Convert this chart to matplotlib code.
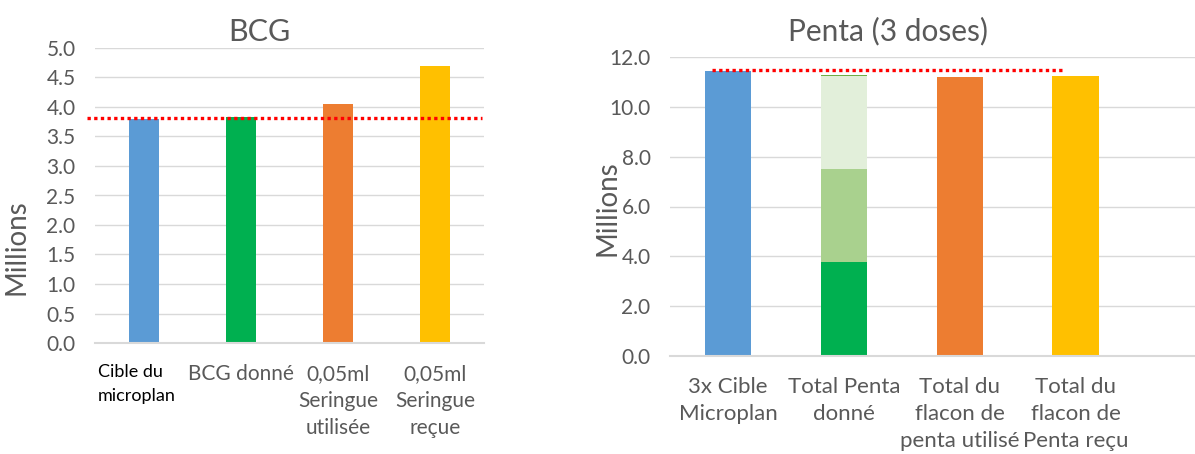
import matplotlib
matplotlib.use("Agg")
import matplotlib.pyplot as plt
from matplotlib import transforms

plt.rcParams['font.family'] = ['Lato', 'DejaVu Sans']

# BCG chart data (millions)
bcg_labels = ["Cible du\nmicroplan", "BCG donné", "0,05ml\nSeringue\nutilisée", "0,05ml\nSeringue\nreçue"]
bcg_values = [3.80, 3.83, 4.05, 4.69]
bcg_colors = ["#5B9BD5", "#00B050", "#ED7D31", "#FFC000"]
bcg_target = 3.81
bcg_ticks = [0.0, 0.5, 1.0, 1.5, 2.0, 2.5, 3.0, 3.5, 4.0, 4.5, 5.0]

# Penta chart data (millions)
penta_labels = ["3x Cible\nMicroplan", "Total Penta\ndonné", "Total du\nflacon de\npenta utilisé", "Total du\nflacon de\nPenta reçu"]
penta_single = [11.44, None, 11.20, 11.24]
penta_single_colors = ["#5B9BD5", None, "#ED7D31", "#FFC000"]
penta_doses = [3.77, 3.74, 3.72, 0.04]   # Penta 1, 2, 3, remainder
penta_dose_colors = ["#00B050", "#A9D18E", "#E2EFDA", "#70AD47"]
penta_target = 11.46
penta_ticks = [0.0, 2.0, 4.0, 6.0, 8.0, 10.0, 12.0]

GRID = "#D9D9D9"
TXT = "#595959"
W, H = 1195, 454

fig = plt.figure(figsize=(W / 100, H / 100), dpi=100)


def style_axes(ax, ticks, fmt):
    for s in ["top", "right", "left"]:
        ax.spines[s].set_visible(False)
    ax.spines["bottom"].set_color(GRID)
    ax.spines["bottom"].set_linewidth(1.5)
    ax.set_yticks(ticks)
    ax.set_yticklabels([fmt.format(t) for t in ticks], color=TXT, fontsize=15)
    ax.tick_params(axis="y", length=0, pad=14)
    ax.tick_params(axis="x", length=0)
    ax.set_xticks([])
    ax.yaxis.grid(True, color=GRID, linewidth=1)
    ax.set_axisbelow(True)


def cat_labels(ax, labels, top, size, first_black=False):
    trans = transforms.blended_transform_factory(ax.transData, fig.transFigure)
    for i, lab in enumerate(labels):
        if i == 0 and first_black:
            ax.text(-0.47, 1 - top / H, lab, transform=trans, ha="left", va="top",
                    color="black", fontsize=13, linespacing=1.6)
        else:
            ax.text(i, 1 - top / H, lab, transform=trans, ha="center", va="top",
                    color=TXT, fontsize=size, linespacing=1.45)


# ---- BCG ----
ax1 = fig.add_axes([95 / W, 1 - 343 / H, (484 - 95) / W, (343 - 48) / H])
x1 = range(len(bcg_values))
ax1.bar(x1, bcg_values, width=0.31, color=bcg_colors, zorder=2)
ax1.set_xlim(-0.5, 3.5)
ax1.set_ylim(0, 5.0)
style_axes(ax1, bcg_ticks, "{:.1f}")
ax1.plot([-0.58, 3.48], [bcg_target, bcg_target], color="red", linewidth=2.4,
         linestyle=(0, (1, 1)), zorder=3, clip_on=False)
cat_labels(ax1, bcg_labels, 364, 15, first_black=True)
fig.text(17 / W, 1 - 247 / H, "Millions", rotation=90, ha="center", va="center",
         color=TXT, fontsize=20)
fig.text(259 / W, 1 - 41 / H, "BCG", ha="center", va="baseline", color=TXT, fontsize=22)

# ---- Penta ----
ax2 = fig.add_axes([670 / W, 1 - 356 / H, (W - 670) / W, (356 - 57) / H])
for i, v in enumerate(penta_single):
    if v is not None:
        ax2.bar(i, v, width=0.40, color=penta_single_colors[i], zorder=2)
bottom = 0
for v, c in zip(penta_doses, penta_dose_colors):
    ax2.bar(1, v, width=0.40, bottom=bottom, color=c, zorder=2)
    bottom += v
ax2.set_xlim(-0.5, 4.03)
ax2.set_ylim(0, 12.0)
style_axes(ax2, penta_ticks, "{:.1f}")
ax2.plot([-0.14, 2.9], [penta_target, penta_target], color="red", linewidth=2.4,
         linestyle=(0, (1, 1)), zorder=3)
cat_labels(ax2, penta_labels, 377, 16)
fig.text(608 / W, 1 - 208 / H, "Millions", rotation=90, ha="center", va="center",
         color=TXT, fontsize=20)
fig.text(888 / W, 1 - 40 / H, "Penta (3 doses)", ha="center", va="baseline",
         color=TXT, fontsize=21.5)

fig.savefig("out.png", dpi=100)
